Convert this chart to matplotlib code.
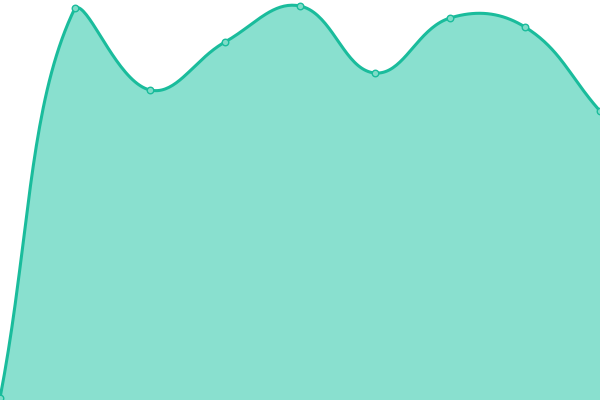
import numpy as np
import matplotlib
matplotlib.use("Agg")
import matplotlib.pyplot as plt

# values (higher = taller), x positions are just indices
labels = ["A", "B", "C", "D", "E", "F", "G", "H", "I"]
values = [2, 392, 310, 358, 394, 327, 382, 373, 289]

line_col = "#1abc9c"
fill_col = "#89e0cf"

W, H = 600, 400


def spline_points(xs, ys, tension=0.4, steps=40):
    # chart.js style cardinal spline, control points capped to chart area
    n = len(xs)
    cps = []
    for i in range(n):
        px, py = (xs[i - 1], ys[i - 1]) if i > 0 else (xs[i], ys[i])
        nx, ny = (xs[i + 1], ys[i + 1]) if i < n - 1 else (xs[i], ys[i])
        cx, cy = xs[i], ys[i]
        d01 = np.hypot(cx - px, cy - py)
        d12 = np.hypot(nx - cx, ny - cy)
        tot = d01 + d12
        s01 = d01 / tot if tot else 0
        s12 = d12 / tot if tot else 0
        fa = tension * s01
        fb = tension * s12
        c1 = (cx - fa * (nx - px), cy - fa * (ny - py))
        c2 = (cx + fb * (nx - px), cy + fb * (ny - py))
        c1 = (min(max(c1[0], 0), W), min(max(c1[1], 0), H))
        c2 = (min(max(c2[0], 0), W), min(max(c2[1], 0), H))
        cps.append((c1, c2))
    outx, outy = [], []
    t = np.linspace(0, 1, steps)
    for i in range(n - 1):
        p0 = np.array([xs[i], ys[i]])
        p1 = np.array(cps[i][1])
        p2 = np.array(cps[i + 1][0])
        p3 = np.array([xs[i + 1], ys[i + 1]])
        pts = ((1 - t) ** 3)[:, None] * p0 + (3 * (1 - t) ** 2 * t)[:, None] * p1 \
            + (3 * (1 - t) * t ** 2)[:, None] * p2 + (t ** 3)[:, None] * p3
        outx.extend(pts[:, 0])
        outy.extend(pts[:, 1])
    return np.array(outx), np.array(outy)


xs = np.linspace(0, W, len(values))
ys = np.array(values, dtype=float)
sx, sy = spline_points(xs, ys)

fig = plt.figure(figsize=(6, 4), dpi=100)
ax = fig.add_axes([0, 0, 1, 1])
ax.fill_between(sx, 0, sy, color=fill_col, linewidth=0)
ax.plot(sx, sy, color=line_col, linewidth=2.2, solid_capstyle="round")
ax.scatter(xs, ys, s=22, facecolor="#7fdcc8", edgecolor=line_col, linewidth=1, zorder=3)
ax.set_xlim(0, W)
ax.set_ylim(0, H)
ax.axis("off")

fig.savefig("out.png", dpi=100)
